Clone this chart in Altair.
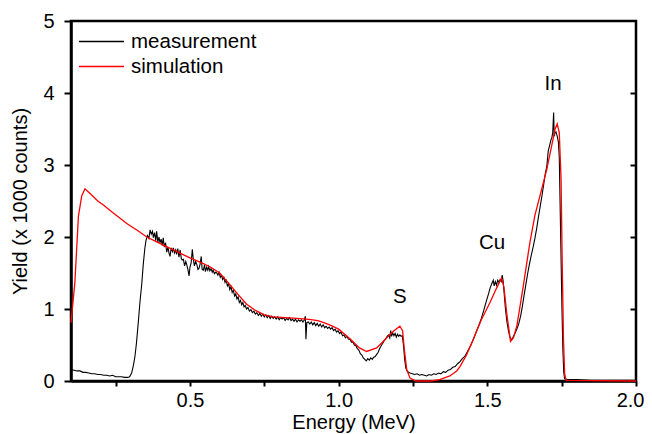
import altair as alt
import pandas as pd

meas_E = [0.100,0.110,0.120,0.130,0.140,0.150,0.160,0.170,0.180,0.190,0.200,0.210,0.220,0.230,0.240,0.250,0.260,0.270,0.280,0.290,
          0.297,0.304,0.310,0.315,0.320,0.326,0.332,0.338,0.343,0.348,0.352,0.357,0.362,0.366,0.370,0.374,0.377,0.381,0.385,0.388,
          0.392,0.396,0.399,0.403,0.407,0.410,0.414,0.418,0.422,0.426,0.430,0.433,0.437,0.441,0.444,0.448,0.452,0.455,0.459,0.463,
          0.467,0.471,0.474,0.478,0.482,0.486,0.489,0.493,0.497,0.500,0.504,0.508,0.511,0.515,0.519,0.523,0.527,0.530,0.534,0.538,
          0.541,0.545,0.549,0.552,0.556,0.560,0.563,0.567,0.571,0.575,0.578,0.582,0.586,0.590,0.594,0.598,0.602,0.606,0.610,0.614,
          0.618,0.622,0.626,0.630,0.634,0.638,0.642,0.646,0.650,0.654,0.658,0.662,0.666,0.670,0.674,0.678,0.682,0.686,0.690,0.695,
          0.700,0.705,0.710,0.715,0.720,0.725,0.730,0.735,0.740,0.745,0.750,0.755,0.760,0.765,0.770,0.775,0.780,0.785,0.790,0.795,
          0.800,0.805,0.810,0.815,0.820,0.825,0.830,0.835,0.840,0.845,0.850,0.855,0.860,0.865,0.870,0.875,0.880,0.885,0.888,0.890,
          0.893,0.898,0.903,0.908,0.913,0.918,0.923,0.928,0.933,0.938,0.943,0.948,0.953,0.958,0.963,0.968,0.973,0.978,0.983,0.988,
          0.993,0.998,1.003,1.008,1.013,1.018,1.023,1.028,1.033,1.038,1.043,1.048,1.053,1.058,1.063,1.068,1.073,1.078,1.083,1.088,
          1.093,1.098,1.103,1.108,1.113,1.118,1.123,1.128,1.133,1.138,1.143,1.148,1.153,1.158,1.163,1.168,1.172,1.175,1.178,1.182,
          1.186,1.190,1.194,1.198,1.202,1.206,1.210,1.214,1.218,1.222,1.226,1.230,1.235,1.240,1.248,1.256,1.264,1.272,1.280,1.288,
          1.296,1.304,1.312,1.320,1.328,1.336,1.344,1.352,1.360,1.368,1.376,1.384,1.392,1.400,1.408,1.416,1.424,1.432,1.440,1.448,
          1.456,1.464,1.472,1.480,1.488,1.496,1.504,1.510,1.516,1.520,1.523,1.527,1.531,1.535,1.539,1.543,1.547,1.550,1.553,1.557,
          1.561,1.566,1.571,1.576,1.582,1.588,1.594,1.600,1.606,1.612,1.618,1.624,1.630,1.636,1.642,1.648,1.654,1.660,1.666,1.672,
          1.678,1.684,1.690,1.695,1.700,1.705,1.710,1.714,1.717,1.720,1.723,1.725,1.728,1.731,1.735,1.739,1.742,1.745,1.748,1.751,
          1.754,1.757,1.760,1.770,1.800,1.850,1.900,1.950,2.000]
meas_Y = [0.16,0.15,0.14,0.14,0.12,0.12,0.11,0.10,0.10,0.09,0.09,0.08,0.08,0.07,0.08,0.06,0.06,0.06,0.05,0.05,
          0.06,0.11,0.22,0.34,0.52,0.80,1.10,1.35,1.62,1.83,1.95,2.02,1.98,2.10,2.04,2.08,1.99,2.06,1.95,2.08,
          1.93,2.00,1.92,1.97,1.88,1.99,1.86,1.92,1.79,1.86,1.77,1.73,1.85,1.80,1.85,1.78,1.82,1.76,1.84,1.72,
          1.82,1.70,1.68,1.69,1.60,1.66,1.62,1.55,1.46,1.58,1.64,1.83,1.70,1.60,1.66,1.62,1.55,1.56,1.62,1.73,
          1.55,1.54,1.61,1.52,1.58,1.54,1.59,1.53,1.56,1.51,1.54,1.49,1.51,1.50,1.47,1.51,1.44,1.47,1.41,1.44,
          1.37,1.40,1.32,1.35,1.27,1.31,1.23,1.26,1.18,1.21,1.14,1.17,1.09,1.12,1.06,1.09,1.03,1.05,1.00,1.02,
          0.97,0.99,0.95,0.97,0.93,0.95,0.91,0.94,0.90,0.93,0.89,0.92,0.88,0.91,0.87,0.90,0.87,0.89,0.86,0.89,
          0.85,0.88,0.86,0.88,0.84,0.87,0.85,0.88,0.84,0.86,0.83,0.86,0.82,0.85,0.83,0.85,0.82,0.85,0.90,0.58,
          0.81,0.82,0.79,0.82,0.78,0.81,0.77,0.80,0.76,0.79,0.75,0.78,0.74,0.76,0.73,0.75,0.72,0.74,0.70,0.72,
          0.68,0.70,0.66,0.68,0.63,0.64,0.60,0.62,0.58,0.58,0.54,0.54,0.50,0.49,0.45,0.43,0.38,0.36,0.32,0.30,
          0.28,0.31,0.29,0.32,0.30,0.33,0.34,0.37,0.40,0.45,0.49,0.52,0.56,0.58,0.62,0.64,0.60,0.70,0.62,0.67,
          0.63,0.66,0.61,0.65,0.62,0.64,0.62,0.63,0.50,0.30,0.18,0.14,0.12,0.11,0.10,0.09,0.10,0.08,0.09,0.08,
          0.07,0.09,0.08,0.10,0.09,0.11,0.10,0.13,0.12,0.15,0.16,0.19,0.20,0.24,0.27,0.31,0.34,0.40,0.46,0.53,
          0.61,0.70,0.78,0.87,0.98,1.10,1.21,1.30,1.36,1.40,1.32,1.38,1.33,1.40,1.37,1.41,1.38,1.47,1.40,1.20,
          1.00,0.82,0.70,0.61,0.57,0.62,0.67,0.73,0.80,0.90,1.04,1.20,1.35,1.50,1.63,1.75,1.86,1.98,2.12,2.28,
          2.43,2.58,2.74,2.88,2.98,3.20,3.28,3.35,3.38,3.45,3.73,3.40,3.45,3.46,3.40,3.32,3.10,2.40,1.70,1.00,
          0.45,0.12,0.03,0.02,0.02,0.01,0.01,0.01,0.01]

# ---- simulation ----
sim_E = [0.100,0.113,0.125,0.136,0.147,0.165,0.190,0.210,0.240,0.265,0.290,0.320,0.355,0.390,0.430,0.470,0.500,0.540,0.570,0.600,
         0.630,0.660,0.690,0.720,0.750,0.780,0.820,0.860,0.900,0.930,0.950,0.970,1.000,1.040,1.070,1.094,1.128,1.162,1.184,1.206,
         1.215,1.222,1.229,1.240,1.260,1.310,1.340,1.374,1.397,1.408,1.430,1.453,1.480,1.509,1.530,1.548,1.556,1.565,1.578,1.588,
         1.600,1.621,1.643,1.660,1.677,1.700,1.716,1.728,1.735,1.742,1.748,1.752,1.756,1.760,1.765,2.000]
sim_Y = [0.81,1.37,2.29,2.57,2.67,2.60,2.50,2.44,2.34,2.26,2.18,2.10,2.00,1.93,1.85,1.77,1.71,1.64,1.58,1.50,
         1.36,1.21,1.07,0.98,0.92,0.89,0.88,0.87,0.855,0.84,0.81,0.78,0.72,0.58,0.46,0.41,0.46,0.60,0.69,0.76,
         0.70,0.40,0.16,0.04,0.00,0.00,0.02,0.07,0.14,0.20,0.36,0.58,0.85,1.09,1.28,1.43,1.30,0.95,0.55,0.60,
         0.78,1.32,1.92,2.30,2.57,2.94,3.26,3.50,3.57,3.45,2.80,1.60,0.60,0.10,0.01,0.00]

series_names = ["measurement", "simulation"]
series_colors = ["#000000", "#ff0000"]

peak_text = ["S", "Cu", "In"]
peak_E = [1.206, 1.516, 1.721]
peak_Y = [1.17, 1.91, 4.13]

x_ticks = [0.25, 0.5, 0.75, 1.0, 1.25, 1.5, 1.75, 2.0]
y_ticks = [0, 1, 2, 3, 4, 5]

meas_df = pd.DataFrame({"E": meas_E, "Y": meas_Y, "series": series_names[0]})
sim_df = pd.DataFrame({"E": sim_E, "Y": sim_Y, "series": series_names[1]})
peak_df = pd.DataFrame({"E": peak_E, "Y": peak_Y, "t": peak_text})

FONT = "Liberation Sans"
AXIS_FS = 20
TEXT_FS = 20.5

x_scale = alt.Scale(domain=[0.1, 2.0], nice=False, zero=False)
y_scale = alt.Scale(domain=[0, 5], nice=False)

x_axis = alt.Axis(values=x_ticks, labelExpr="datum.value % 0.5 == 0 ? format(datum.value, '.1f') : ''",
                  tickSize=5, labelPadding=4, title="Energy (MeV)", titlePadding=2,
                  labelFlush=True, labelFlushOffset=8)
y_axis = alt.Axis(values=y_ticks, tickSize=7, labelPadding=10, title="Yield (x 1000 counts)", titlePadding=12)

color = alt.Color("series:N",
                  scale=alt.Scale(domain=series_names, range=series_colors),
                  legend=alt.Legend(title=None, orient="none", legendX=7, legendY=8,
                                    symbolType="stroke", symbolSize=2025, symbolStrokeWidth=1.3,
                                    clipHeight=25, rowPadding=0,
                                    labelFontSize=TEXT_FS, labelFont=FONT, labelOffset=6,
                                    padding=0))

meas = alt.Chart(meas_df).mark_line(strokeWidth=1.1).encode(
    x=alt.X("E:Q", scale=x_scale, axis=x_axis),
    y=alt.Y("Y:Q", scale=y_scale, axis=y_axis),
    color=color,
)
sim = alt.Chart(sim_df).mark_line(strokeWidth=1.3).encode(
    x=alt.X("E:Q", scale=x_scale, axis=x_axis),
    y=alt.Y("Y:Q", scale=y_scale, axis=y_axis),
    color=color,
)
peaks = alt.Chart(peak_df).mark_text(font=FONT, fontSize=TEXT_FS, color="black").encode(
    x=alt.X("E:Q", scale=x_scale, axis=x_axis),
    y=alt.Y("Y:Q", scale=y_scale, axis=y_axis),
    text="t:N",
)
right = alt.Chart(peak_df).mark_point(opacity=0).encode(
    x=alt.X("E:Q", scale=x_scale, axis=x_axis),
    y=alt.Y("Y:Q", scale=y_scale,
            axis=alt.Axis(orient="right", values=[1, 2, 3, 4], offset=-6, tickSize=6,
                          labels=False, domain=False, title=None)),
)

chart = alt.layer(alt.layer(meas, sim, peaks), right).resolve_axis(y="independent").properties(
    width=565, height=360,
    autosize=alt.AutoSizeParams(type="none"),
    padding={"left": 63, "top": 13, "right": 8, "bottom": 53},
).configure_view(stroke="black", strokeWidth=2.5).configure_axis(
    grid=False, domainColor="black", domainWidth=2.5, tickColor="black", tickWidth=2,
    labelFont=FONT, labelFontSize=AXIS_FS, labelColor="black",
    titleFont=FONT, titleFontSize=AXIS_FS, titleFontWeight="normal", titleColor="black",
)

chart.save("out.html", embed_options={"renderer": "svg", "actions": False})
